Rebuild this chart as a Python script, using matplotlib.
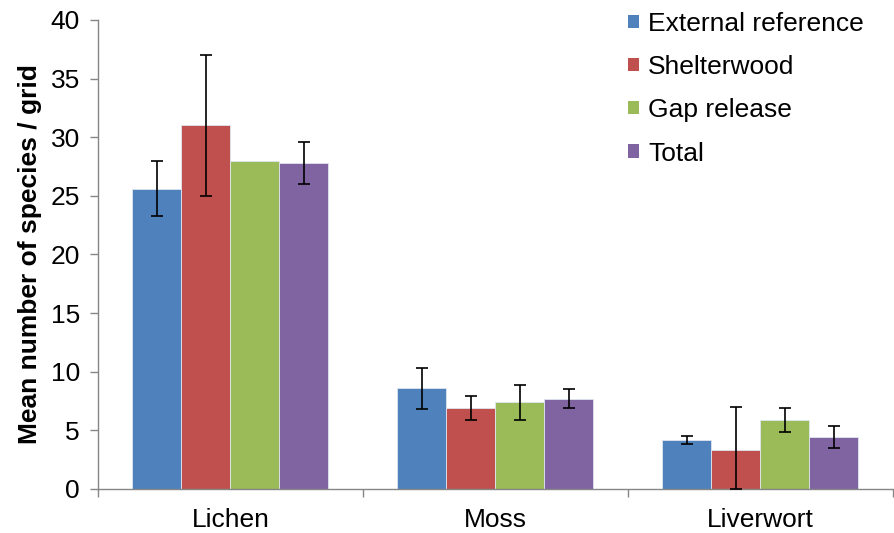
import matplotlib
matplotlib.use("Agg")
import matplotlib.pyplot as plt
import numpy as np
from matplotlib.patches import Patch

plt.rcParams['font.family'] = ['Liberation Sans', 'DejaVu Sans']

categories = ["Lichen", "Moss", "Liverwort"]
series = ["External reference", "Shelterwood", "Gap release", "Total"]
means = {
    "External reference": [25.6, 8.6, 4.2],
    "Shelterwood": [31.0, 6.9, 3.35],
    "Gap release": [28.0, 7.4, 5.9],
    "Total": [27.8, 7.7, 4.45],
}
errors = {
    "External reference": [2.35, 1.75, 0.33],
    "Shelterwood": [6.0, 1.0, 3.6],
    "Gap release": [0.0, 1.5, 1.04],
    "Total": [1.8, 0.82, 0.96],
}
colors = ["#4F81BD", "#C0504D", "#9BBB59", "#8064A2"]
yticks = [0, 5, 10, 15, 20, 25, 30, 35, 40]

FS = 19

fig = plt.figure(figsize=(8.94, 5.33), dpi=100)
ax = fig.add_axes([0.1096, 0.0826, 0.889, 0.88])

x = np.arange(len(categories))
bw = 0.185
for i, (name, col) in enumerate(zip(series, colors)):
    pos = x + (i - 1.5) * bw
    vals = np.array(means[name])
    err = np.array(errors[name])
    ax.bar(pos, vals, width=bw, color=col, edgecolor="#dfe6f0", linewidth=0.6,
           zorder=2)
    lower = np.minimum(err, vals)
    mask = err > 0
    ax.errorbar(pos[mask], vals[mask], yerr=[lower[mask], err[mask]], fmt="none",
                ecolor="black", elinewidth=1.2, capsize=4.5, capthick=1.2, zorder=3)

ax.set_xlim(-0.5, len(categories) - 0.5)
ax.set_ylim(0, 40)
ax.set_yticks(yticks)
ax.set_yticklabels([str(t) for t in yticks], fontsize=FS)
ax.set_xticks(x)
ax.set_xticklabels(categories, fontsize=FS)
ax.set_xticks(np.arange(len(categories) + 1) - 0.5, minor=True)
ax.tick_params(axis="x", which="major", length=0, pad=13.5)
ax.tick_params(axis="x", which="minor", length=6, color="#868686", width=1)
ax.tick_params(axis="y", length=6, color="#868686", width=1, pad=7)

for side in ["top", "right"]:
    ax.spines[side].set_visible(False)
for side in ["left", "bottom"]:
    ax.spines[side].set_color("#868686")
    ax.spines[side].set_linewidth(1)

ax.set_ylabel("Mean number of species / grid", fontsize=FS, fontweight="bold",
              labelpad=6)

handles = [Patch(facecolor=c, edgecolor="none") for c in colors]
fig.legend(handles, series, loc="upper left", bbox_to_anchor=(0.703, 0.978),
           frameon=False, fontsize=FS, handlelength=0.4, handleheight=0.4,
           handletextpad=0.35, labelspacing=0.73, borderpad=0, borderaxespad=0)

fig.savefig("out.png", dpi=100)
